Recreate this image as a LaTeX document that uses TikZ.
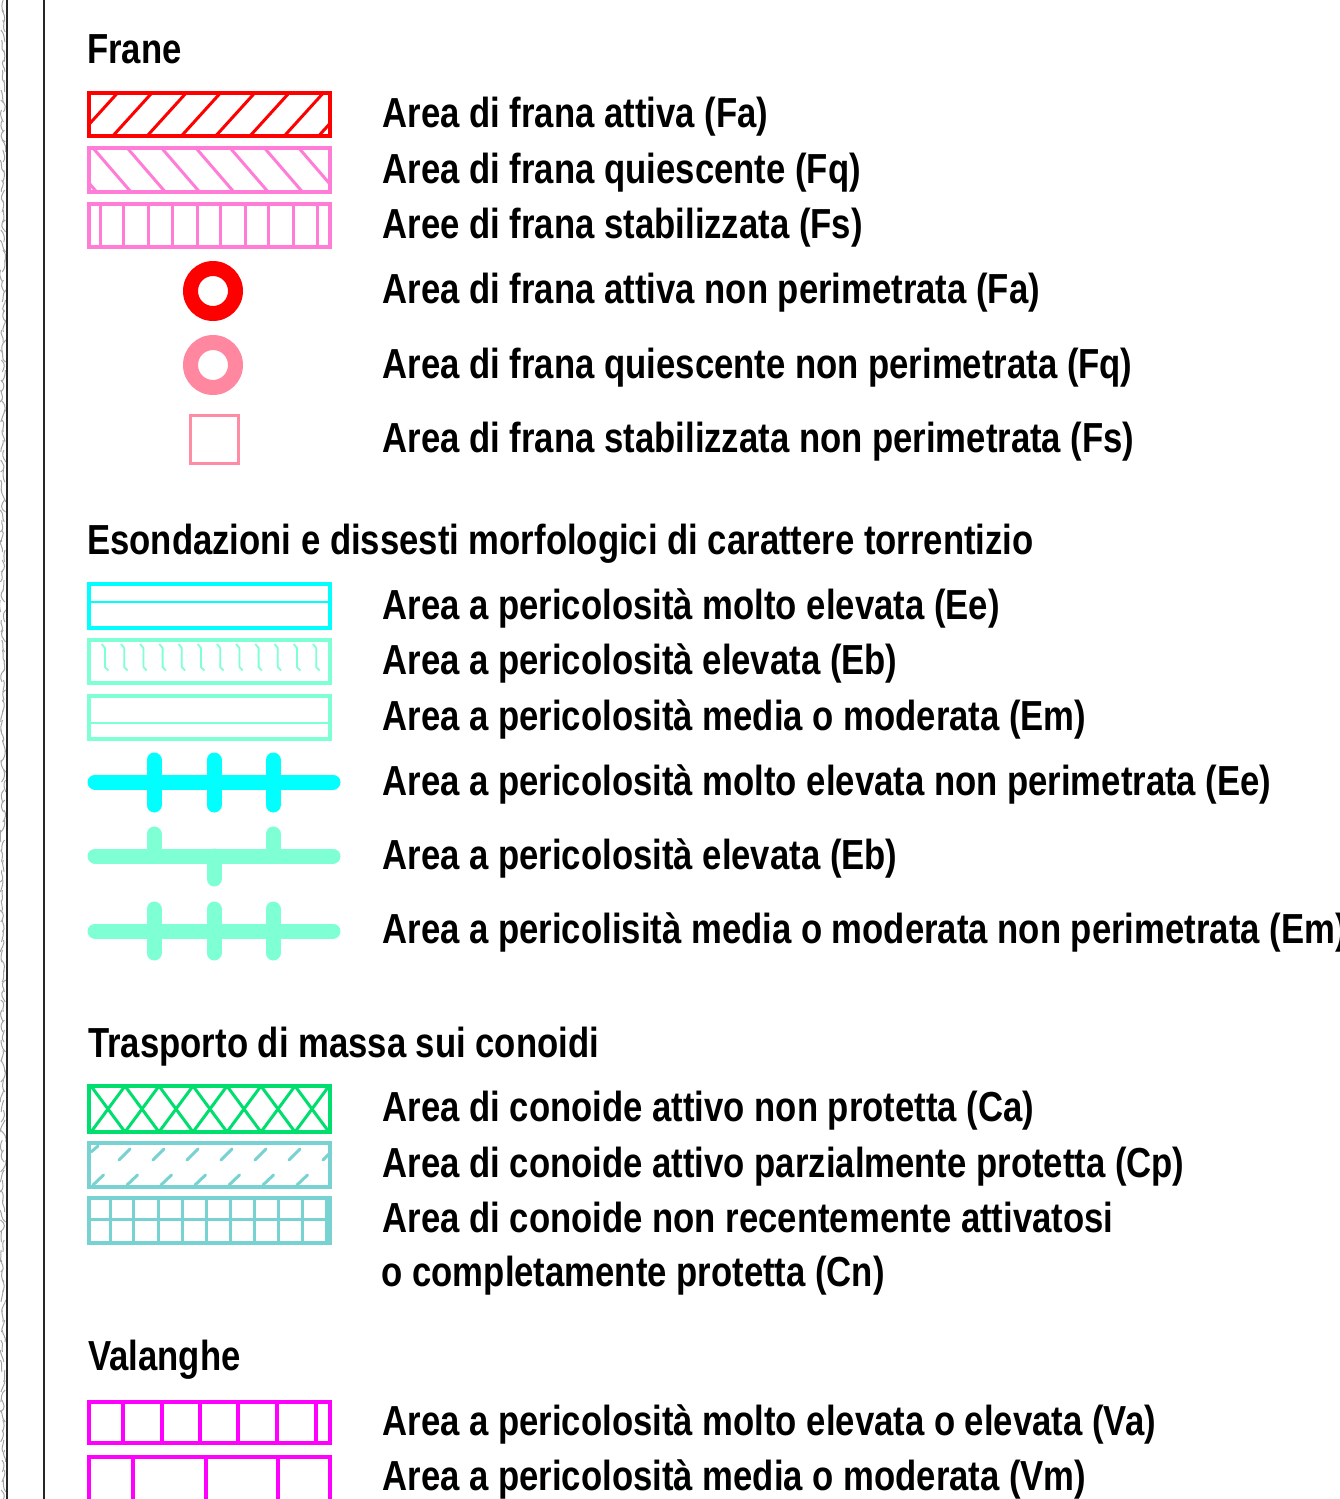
\documentclass[tikz,border=0pt]{standalone}
\usepackage{fontspec}
\newfontfamily\lblfam[FakeStretch=0.826]{Liberation Sans}
\definecolor{cRed}{RGB}{255,0,0}
\definecolor{cPink}{RGB}{255,125,215}
\definecolor{cRing}{RGB}{255,135,160}
\definecolor{cSq}{RGB}{255,140,165}
\definecolor{cCyan}{RGB}{0,255,255}
\definecolor{cAqua}{RGB}{127,255,212}
\definecolor{cGreen}{RGB}{0,222,110}
\definecolor{cTeal}{RGB}{120,210,210}
\definecolor{cMag}{RGB}{255,0,255}
\begin{document}
\begin{tikzpicture}[x=1pt,y=-1pt,
  lbl/.style={anchor=base west,inner sep=0pt,font=\lblfam\bfseries\fontsize{42}{48}\selectfont},
  frame/.style={line width=3.6pt,line join=miter},
  hatch/.style={line width=3pt},
  tickline/.style={line width=15pt,line cap=round}]
\useasboundingbox (0,0) rectangle (1340,1499);
% left edge texture and frame lines
\pgfmathsetseed{11}
\foreach \i in {0,...,150}{
  \pgfmathsetmacro\yy{\i*10}
  \draw[gray!70,line width=1pt] ({3+3*rand},\yy) .. controls ({3+4*rand},{\yy+4}) and ({3+4*rand},{\yy+8}) .. ({3+3*rand},{\yy+12});
}
\draw[black!85,line width=2pt] (7,0) -- (7,1499);
\draw[black!85,line width=2pt] (44,0) -- (44,1499);

% ---------------- Frane ----------------
\node[lbl] (hFrane) at (87,63.5) {Frane};
% Fa
\begin{scope}
  \clip (89,93) rectangle (330,136);
  \foreach \k in {0,...,7}{\draw[cRed,hatch] ({78.5+34.3*\k},136) -- ++(39,-43);}
\end{scope}
\draw[cRed,frame] (89,93) rectangle (330,136);
\node[lbl] (tFa) at (382.5,127.5) {Area di frana attiva (Fa)};
% Fq
\begin{scope}
  \clip (89,148) rectangle (330,192);
  \foreach \k in {0,...,8}{\draw[cPink,hatch] ({58.7+34.3*\k},148) -- ++(38,44);}
\end{scope}
\draw[cPink,frame] (89,148) rectangle (330,192);
\node[lbl] (tFq) at (382.5,183.5) {Area di frana quiescente (Fq)};
% Fs
\foreach \x in {100,123,148,172,197,220,245,268,293,317}{\draw[cPink,hatch] (\x,204) -- (\x,247);}
\draw[cPink,frame] (89,204) rectangle (330,247);
\node[lbl] (tFs) at (382.5,238.5) {Aree di frana stabilizzata (Fs)};
% rings
\fill[cRed,even odd rule] (213,291) circle (30) (213,291) circle (15);
\node[lbl] (tFa2) at (382.5,303.5) {Area di frana attiva non perimetrata (Fa)};
\fill[cRing,even odd rule] (213,365) circle (30) (213,365) circle (15);
\node[lbl] (tFq2) at (382.5,378.5) {Area di frana quiescente non perimetrata (Fq)};
\draw[cSq,line width=3pt] (190,415) rectangle (238,463);
\node[lbl] (tFs2) at (382.5,452.5) {Area di frana stabilizzata non perimetrata (Fs)};

% ---------------- Esondazioni ----------------
\node[lbl] (hEso) at (87,554.5) {Esondazioni e dissesti morfologici di carattere torrentizio};
% Ee
\draw[cCyan,frame,line width=4pt] (89,584) rectangle (330,628);
\draw[cCyan,line width=2.8pt] (89,602) -- (330,602);
\node[lbl] (tEe) at (382.5,619.5) {Area a pericolosità molto elevata (Ee)};
% Eb
\draw[cAqua,frame] (89,640) rectangle (330,683);
\foreach \k in {0,...,11}{
  \pgfmathsetmacro\xx{101.7+19.2*\k}
  \draw[cAqua,line width=1.8pt] (\xx,644) -- ++(3.3,4) -- ++(0,19) -- ++(3.3,3.5);
}
\node[lbl] (tEb) at (382.5,674.5) {Area a pericolosità elevata (Eb)};
% Em
\draw[cAqua,frame] (89,696) rectangle (330,739);
\draw[cAqua,line width=2.8pt] (89,723) -- (330,723);
\node[lbl] (tEm) at (382.5,730.5) {Area a pericolosità media o moderata (Em)};
% Ee non perimetrata
\draw[cCyan,tickline] (95,782) -- (333,782);
\foreach \x in {154,214,273}{\draw[cCyan,tickline] (\x,760) -- (\x,805);}
\node[lbl] (tEe2) at (382.5,795.5) {Area a pericolosità molto elevata non perimetrata (Ee)};
% Eb non perimetrata
\draw[cAqua,tickline] (95,856) -- (333,856);
\draw[cAqua,tickline] (154,834) -- (154,856);
\draw[cAqua,tickline] (273,834) -- (273,856);
\draw[cAqua,tickline] (214,856) -- (214,879);
\node[lbl] (tEb2) at (382.5,869.5) {Area a pericolosità elevata (Eb)};
% Em non perimetrata
\draw[cAqua,tickline] (95,931) -- (333,931);
\foreach \x in {154,214,273}{\draw[cAqua,tickline] (\x,909) -- (\x,953);}
\node[lbl] (tEm2) at (382.5,943.5) {Area a pericolisità media o moderata non perimetrata (Em)};

% ---------------- Trasporto ----------------
\node[lbl] (hTra) at (88,1057.5) {Trasporto di massa sui conoidi};
% Ca
\begin{scope}
  \clip (89,1086) rectangle (330,1132);
  \foreach \k in {-1,...,7}{
    \pgfmathsetmacro\pp{125+34*\k}
    \draw[cGreen,hatch] (\pp,1086) -- ++(34,46);
    \draw[cGreen,hatch] (\pp,1086) -- ++(-34,46);
  }
\end{scope}
\draw[cGreen,frame] (89,1086) rectangle (330,1132);
\node[lbl] (tCa) at (382.5,1121.5) {Area di conoide attivo non protetta (Ca)};
% Cp
\begin{scope}
  \clip (89,1143) rectangle (330,1187);
  \draw[cTeal,hatch,line cap=round] (91,1152) -- (98,1146);
  \foreach \k in {0,...,6}{
    \pgfmathsetmacro\xa{119+34*\k}
    \draw[cTeal,hatch,line cap=round] (\xa,1160) -- ++(11,-11);
    \pgfmathsetmacro\xb{93+34*\k}
    \draw[cTeal,hatch,line cap=round] (\xb,1185) -- ++(10.5,-10);
  }
\end{scope}
\draw[cTeal,frame] (89,1143) rectangle (330,1187);
\node[lbl] (tCp) at (382.5,1177.5) {Area di conoide attivo parzialmente protetta (Cp)};
% Cn
\draw[cTeal,hatch] (89,1219) -- (330,1219);
\foreach \x in {110,133,158,182,206,230,254,278,302,326}{\draw[cTeal,hatch] (\x,1198) -- (\x,1243);}
\draw[cTeal,frame] (89,1198) rectangle (330,1243);
\node[lbl] (tCn) at (382.5,1232.5) {Area di conoide non recentemente attivatosi};
\node[lbl] (tCn2) at (381.5,1286.5) {o completamente protetta (Cn)};

% ---------------- Valanghe ----------------
\node[lbl] (hVal) at (88,1370.5) {Valanghe};
\foreach \x in {123,162,200,238,277,316}{\draw[cMag,frame] (\x,1402) -- (\x,1443);}
\draw[cMag,frame] (89,1402) rectangle (330,1443);
\node[lbl] (tVa) at (382.5,1435.5) {Area a pericolosità molto elevata o elevata (Va)};
\foreach \x in {133,206,278}{\draw[cMag,frame] (\x,1457) -- (\x,1510);}
\draw[cMag,frame] (89,1510) -- (89,1457) -- (330,1457) -- (330,1510);
\node[lbl] (tVm) at (382.5,1490.5) {Area a pericolosità media o moderata (Vm)};
\end{tikzpicture}
\end{document}
